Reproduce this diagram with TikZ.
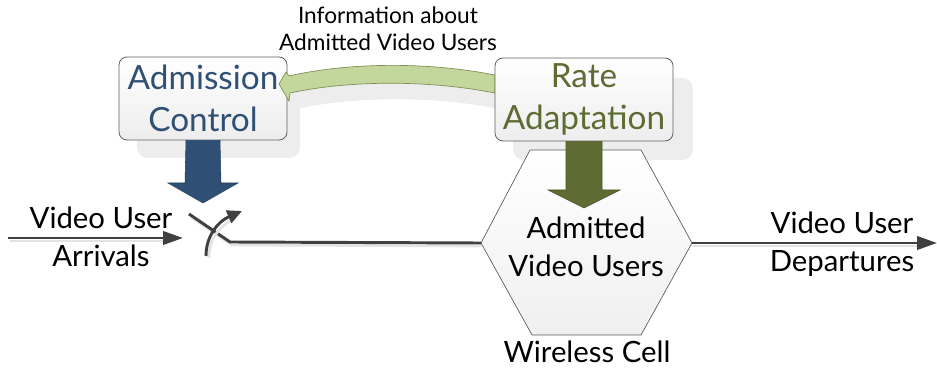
\documentclass[tikz,border=0pt]{standalone}
\usepackage{fontspec}
\setmainfont{Lato}
\usetikzlibrary{arrows.meta,calc}
\definecolor{acblue}{HTML}{2F5074}
\definecolor{acbluedark}{HTML}{22405F}
\definecolor{raolive}{HTML}{5E6C34}
\definecolor{raolivedark}{HTML}{4A5628}
\definecolor{lightgreen}{HTML}{C3D69B}
\definecolor{lightgreenedge}{HTML}{7E8E52}
\definecolor{linegray}{HTML}{404040}
\tikzset{
  boxnode/.style={draw=gray!75!black, line width=0.6pt, rounded corners=6pt,
    top color=white, bottom color=gray!14, align=center,
    inner sep=0pt, font=\fontsize{25}{32}\selectfont},
  shadowfill/.style={fill=gray!14},
  lbl/.style={align=center, inner sep=0pt, font=\fontsize{22}{28.5}\selectfont},
  smalllbl/.style={align=center, inner sep=0pt, font=\fontsize{17}{20}\selectfont},
  flowline/.style={draw=linegray, line width=2.2pt},
  flowshadow/.style={draw=gray!22, line width=2pt},
  flowtip/.style={-{Triangle[length=15pt,width=10pt]}},
}
\begin{document}
\begin{tikzpicture}[x=0.75pt,y=-0.75pt]
\useasboundingbox (0,0) rectangle (937,377);

% shadows of boxes and curved arrow
\fill[shadowfill, rounded corners=8pt] (137,75) rectangle (300,158);
\fill[shadowfill, rounded corners=8pt] (513,78) rectangle (693,160);
\fill[shadowfill] (499,91) .. controls (436,78) and (356,78) .. (295,92)
  -- (292,88) -- (285,100) -- (295,117) -- (296,109)
  .. controls (356,96) and (436,96) .. (499,109) -- cycle;

% hexagon (wireless cell)
\coordinate (hexL) at (481,243);
\coordinate (hexR) at (692,243);
\path[draw=gray!70!black, line width=0.5pt, top color=white, bottom color=gray!12]
  (530,150) -- (641,150) -- (hexR) -- (641,335) -- (532,335) -- (hexL) -- cycle;
\node[lbl] (users) at (586,247) {Admitted\\Video Users};
\node[lbl] (cell) at (587,352) {Wireless Cell};

% input flow
\coordinate (inS) at (8,238);
\coordinate (inE) at (183,238);
\draw[flowshadow] ($(inS)+(2,3)$) -- ($(inE)+(-12,3)$);
\draw[flowline, flowtip] (inS) -- (inE);
\node[lbl] (arr) at (101,237) {Video User\\Arrivals};

% switch
\coordinate (swA) at (189,214);
\coordinate (swB) at (230,242);
\draw[flowshadow] ($(swA)+(2,3)$) -- ($(swB)+(2,3)$) -- ($(hexL)+(0,3)$);
\draw[flowline] (swA) -- (swB) -- (hexL);
\coordinate (swS) at (206,256);
\coordinate (swE) at (242,211);
\draw[flowshadow] ($(swS)+(3,2)$) .. controls (209,236) and (222,225) .. ($(swE)+(-6,6)$);
\draw[flowline, -{Triangle[length=11pt,width=10pt]}] (swS) .. controls (206,235) and (219,221) .. (swE);

% output flow
\coordinate (outE) at (937,243);
\draw[flowshadow] ($(hexR)+(0,3)$) -- ($(outE)+(-14,3)$);
\draw[flowline, flowtip] (hexR) -- (outE);
\node[lbl] (dep) at (842,244.5) {Video User\\Departures};

% boxes
\node[boxnode, minimum width=126pt, minimum height=62.25pt, text=acblue] (ac) at (203,98.5) {Admission\\Control};
\node[boxnode, minimum width=133.5pt, minimum height=62.25pt, text=raolive] (ra) at (584,99.5) {Rate\\Adaptation};

% block arrows down
\fill[acblue, draw=acbluedark, line width=0.4pt]
  ($(ac.south)+(-17,0)$) -- ($(ac.south)+(17,0)$) -- (221,183) -- (238,183) -- (203,203)
  -- (168,183) -- (185,183) -- cycle;
\fill[raolive, draw=raolivedark, line width=0.4pt]
  ($(ra.south)+(-18,0)$) -- ($(ra.south)+(18,0)$) -- (602,190) -- (620,190) -- (584,208)
  -- (548,190) -- (566,190) -- cycle;

% curved information arrow
\fill[lightgreen, draw=lightgreenedge, line width=0.5pt]
  (ra.west |- 0,75) .. controls (430,62) and (350,62) .. (289,76)
  -- (286,72) -- (279,84) -- (289,101) -- (290,93)
  .. controls (350,80) and (430,80) .. (ra.west |- 0,93) -- cycle;
\node[smalllbl] (info) at (388,28.5) {Information about\\Admitted Video Users};
\end{tikzpicture}
\end{document}
